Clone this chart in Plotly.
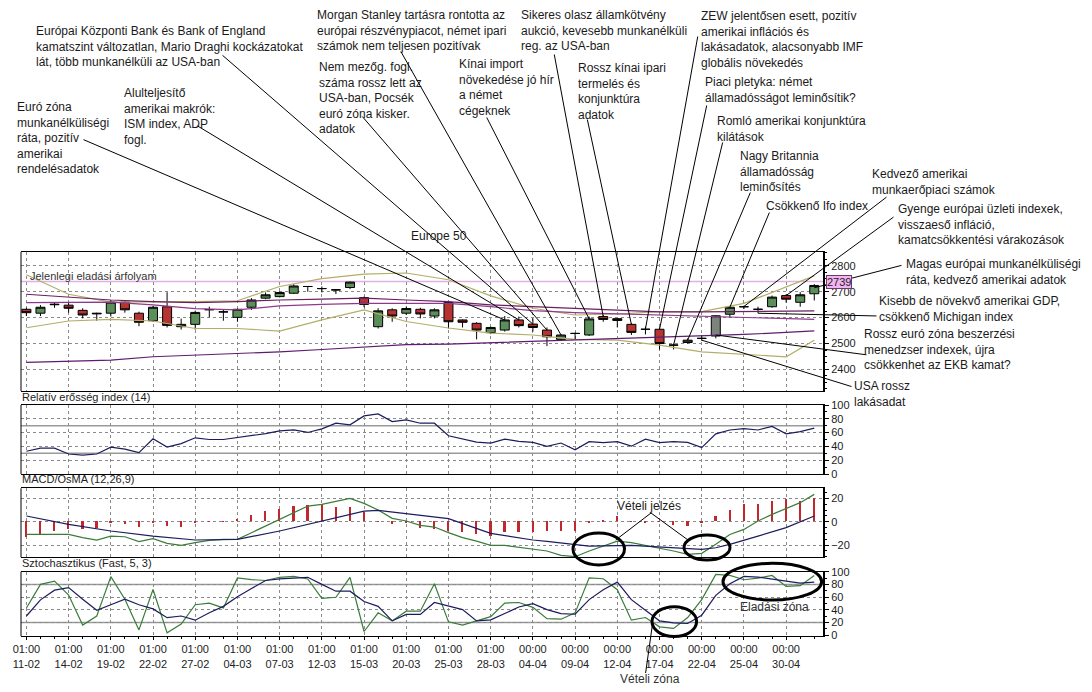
import plotly.graph_objects as go

# ---------------- data ----------------
tick_index = [0, 3, 6, 9, 12, 15, 18, 21, 24, 27, 30, 33, 36, 39, 42, 45, 48, 51, 54]
tick_times = ["01:00", "01:00", "01:00", "01:00", "01:00", "01:00", "01:00", "01:00", "01:00", "01:00",
              "01:00", "01:00", "00:00", "00:00", "00:00", "00:00", "00:00", "00:00", "00:00"]
tick_dates = ["11-02", "14-02", "19-02", "22-02", "27-02", "04-03", "07-03", "12-03", "15-03", "20-03",
              "25-03", "28-03", "04-04", "09-04", "12-04", "17-04", "22-04", "25-04", "30-04"]

candle_index = list(range(57))
open_ = [2632, 2617, 2652, 2648, 2628, 2617, 2617, 2660, 2617, 2588, 2642, 2565, 2574, 2630, 2622, 2601,
         2640, 2675, 2681, 2694, 2720, 2712, 2707, 2716, 2677, 2565, 2630, 2617, 2632, 2606, 2658, 2591,
         2578, 2542, 2552, 2591, 2575, 2552, 2516, 2539, 2533, 2604, 2596, 2574, 2555, 2555, 2494, 2504,
         2520, 2529, 2613, 2642, 2632, 2642, 2685, 2659, 2692]
high = [2638, 2648, 2658, 2658, 2636, 2619, 2668, 2664, 2623, 2645, 2698, 2596, 2627, 2642, 2630, 2635,
        2675, 2697, 2700, 2729, 2722, 2720, 2710, 2739, 2681, 2636, 2636, 2642, 2638, 2636, 2664, 2593,
        2582, 2565, 2606, 2604, 2597, 2562, 2536, 2542, 2604, 2610, 2596, 2578, 2565, 2562, 2500, 2520,
        2533, 2610, 2645, 2646, 2642, 2685, 2690, 2698, 2729]
low = [2606, 2606, 2638, 2619, 2597, 2588, 2604, 2619, 2567, 2584, 2562, 2554, 2554, 2601, 2588, 2584,
       2630, 2671, 2678, 2691, 2700, 2697, 2691, 2710, 2640, 2558, 2584, 2610, 2597, 2597, 2558, 2562,
       2516, 2536, 2546, 2562, 2546, 2490, 2513, 2516, 2529, 2584, 2562, 2533, 2535, 2477, 2477, 2500,
       2511, 2520, 2601, 2633, 2617, 2638, 2658, 2642, 2666]
close = [2619, 2640, 2650, 2636, 2610, 2615, 2660, 2630, 2582, 2640, 2570, 2574, 2620, 2631, 2622, 2632,
         2668, 2688, 2697, 2722, 2720, 2712, 2707, 2737, 2651, 2626, 2606, 2635, 2614, 2630, 2584, 2582,
         2552, 2562, 2591, 2569, 2562, 2526, 2533, 2539, 2595, 2593, 2589, 2543, 2555, 2500, 2494, 2513,
         2520, 2607, 2640, 2642, 2632, 2679, 2671, 2688, 2724]
# candle 49 is drawn grey in the reference; 48 (a doji) shares that trace so body widths match
grey_group = [48, 49]
current_price = 2739

line_index = [0, 3, 6, 9, 12, 15, 18, 21, 24, 27, 30, 33, 36, 39, 42, 45, 48, 51, 54, 56]
bb_upper = [2765, 2690, 2660, 2660, 2662, 2665, 2720, 2750, 2768, 2772, 2746, 2684, 2636, 2610, 2614,
            2623, 2623, 2655, 2720, 2761]
bb_lower = [2561, 2587, 2593, 2587, 2558, 2558, 2548, 2591, 2630, 2585, 2560, 2540, 2533, 2516, 2513,
            2494, 2468, 2458, 2449, 2513]
ma_fast = [2690, 2679, 2668, 2662, 2658, 2662, 2668, 2671, 2675, 2668, 2662, 2649, 2642, 2636, 2627,
           2622, 2622, 2624, 2624, 2626]
ma_mid = [2658, 2659, 2660, 2649, 2635, 2630, 2645, 2651, 2655, 2655, 2655, 2642, 2627, 2619, 2614,
          2610, 2606, 2601, 2596, 2593]
ma_slow = [2427, 2432, 2436, 2449, 2455, 2462, 2468, 2477, 2487, 2496, 2498, 2503, 2508, 2513, 2518,
           2524, 2529, 2535, 2543, 2549]

rsi = [33, 37.5, 37.5, 29, 27.5, 29, 39, 36, 31, 51, 39, 44, 52.5, 50, 50, 52.5, 55, 58.5,
       62.6, 64.0, 60.2, 65.5, 73.6, 71.2, 84.2, 87.1, 76.0, 78.4, 73.6, 73.6, 55.4, 50.6, 46.3, 44.9,
       50.6, 47.2, 45.8, 40.0, 44.9, 35.1, 46.9, 45.4, 46.9, 40.3, 50.5, 45.4, 46.9, 45.9, 38.2, 58.2,
       63.8, 65.9, 63.8, 69.0, 58.2, 61.3, 66.4]

macd_main = [-10.9, -10.9, -10.9, -10.9, -13.7, -15.7, -12.3, -12.9, -17.1, -14.6, -18.6, -20.3, -18.0,
             -16.0, -15.1, -15.1, -9.4, -3.7, 1.4, 7.7, 13.4, 14.9, 17.7, 20.0, 15.7, 10.0, 2.9, 0.6,
             -3.1, -4.6, -9.4, -13.7, -16.6, -20.3, -20.3, -21.7, -23.1, -25.1, -28.9, -30.0, -25.1,
             -20.9, -16.6, -18.0, -20.3, -22.3, -25.1, -28.0, -27.1, -19.4, -10.9, -6.6, 0.6, 6.3,
             11.1, 16.3, 23.4]
macd_osma = [-13.7, -11.7, -8.0, -6.6, -6.6, -6.0, -1.4, -2.3, -5.1, -1.4, -3.7, -4.6, -1.4, -0.3, 0.3,
             2.0, 5.7, 8.6, 10.6, 12.9, 14.0, 14.9, 12.6, 12.0, 7.7, 0.3, -2.3, -1.7, -6.0, -6.6, -8.0,
             -9.4, -10.9, -12.3, -8.9, -8.9, -8.9, -8.0, -8.0, -8.6, -0.9, 1.4, 4.9, 0.3, -0.9, -0.3,
             -2.9, -3.7, -1.4, 4.3, 9.7, 14.9, 14.9, 17.7, 19.1, 17.7, 20.0]
signal_index = [0, 3, 6, 9, 12, 15, 18, 21, 24, 25, 27, 30, 33, 36, 37, 40, 43, 46, 48, 49, 50, 52, 54, 56]
macd_signal = [4.9, -2.3, -8.0, -12.3, -15.7, -15.1, -8.0, 0.6, 9.1, 9.7, 7.1, 2.6, -10.0, -15.7, -16.9,
               -20.9, -20.3, -22.3, -23.7, -22.3, -19.4, -12.3, -5.1, 4.9]

stoch_k = [42.9, 80, 85.1, 63.2, 15.9, 30.2, 92.2, 56.6, 8.3, 71.9, 3.7, 17.5, 48.0, 50.5, 42.9, 90.2,
           87.6, 86.1, 91.2, 92.7, 88.6, 58.1, 59.7, 91.2, 5.8, 35.3, 22.5, 37.8, 37.8, 81.0, 21.0, 15.9,
           22.5, 29.2, 50.5, 51.5, 43.9, 26.1, 25.2, 35.1, 90.4, 88.9, 71.7, 23.7, 27.8, 13.2, 10.6,
           27.8, 56.0, 95.6, 94.1, 87.3, 89.9, 94.1, 76.9, 78.0, 94.0]
stoch_d = [30.2, 55.6, 70.9, 74.9, 56.6, 39.3, 48.0, 56.6, 48.0, 41.4, 27.6, 30.2, 23.6, 35.3, 45.4, 60.7,
           73.4, 86.1, 88.6, 90.2, 91.2, 80.0, 69.3, 69.3, 53.1, 45.4, 22.5, 32.7, 32.7, 51.5, 46.4, 40.3,
           22.5, 24.1, 34.2, 44.4, 49.5, 40.3, 34.1, 33.0, 56.0, 71.7, 83.6, 56.0, 39.3, 22.6, 19.5,
           18.4, 31.5, 62.8, 81.0, 92.5, 91.5, 88.9, 85.2, 82.1, 83.6]

event_index = [34, 35, 36, 37, 38, 40, 41, 43, 44, 45, 46, 47, 50, 51, 54, 56, 52, 49, 48]
event_price = [2591, 2591, 2575, 2552, 2533, 2595, 2604, 2574, 2556, 2555, 2494, 2513, 2640, 2643, 2685,
               2715, 2617, 2533, 2513]
event_text = [
    "Euró zóna<br>munkanélküliségi<br>ráta, pozitív<br>amerikai<br>rendelésadatok",
    "Alulteljesítő<br>amerikai makrók:<br>ISM index, ADP<br>fogl.",
    "Európai Központi Bank és Bank of England<br>kamatszint változatlan, Mario Draghi kockázatokat<br>lát, több munkanélküli az USA-ban",
    "Nem mezőg. fogl.<br>száma rossz lett az<br>USA-ban, Pocsék<br>euró zóna kisker.<br>adatok",
    "Morgan Stanley tartásra rontotta az<br>európai részvénypiacot, német ipari<br>számok nem teljesen pozitívak",
    "Kínai import<br>növekedése jó hír<br>a német<br>cégeknek",
    "Sikeres olasz államkötvény<br>aukció, kevesebb munkanélküli<br>reg. az USA-ban",
    "Rossz kínai ipari<br>termelés és<br>konjunktúra<br>adatok",
    "ZEW jelentősen esett, pozitív<br>amerikai inflációs és<br>lakásadatok, alacsonyabb IMF<br>globális növekedés",
    "Piaci pletyka: német<br>államadósságot leminősítik?",
    "Romló amerikai konjunktúra<br>kilátások",
    "Nagy Britannia<br>államadósság<br>leminősítés",
    "Csökkenő Ifo index",
    "Kedvező amerikai<br>munkaerőpiaci számok",
    "Gyenge európai üzleti indexek,<br>visszaeső infláció,<br>kamatcsökkentési várakozások",
    "Magas európai munkanélküliségi<br>ráta, kedvező amerikai adatok",
    "Kisebb de növekvő amerikai GDP,<br>csökkenő Michigan index",
    "Rossz euró zóna beszerzési<br>menedzser indexek, újra<br>csökkenhet az EKB kamat?",
    "USA rossz<br>lakásadat",
]

# ---------------- layout constants ----------------
W, H = 1092, 692
ML, MR, MT, MB = 21, 269, 252, 56
PW = W - ML - MR
PH = H - MT - MB
X_RANGE = [-0.384, 56.62]
PRICE_RANGE = [2317, 2853]
PRICE_TOP, PRICE_BOT = 252, 391
FONT = "Liberation Sans, Arial, sans-serif"
GREEN_C = "#5b8e5b"
RED_C = "#b53331"
GRAY_C = "#7c857c"
OLIVE = "#b3ae68"
NAVY = "#1c1c5e"
LGREEN = "#3a7d3a"

# text block placement (left px, first-line centre px, leader tail px x, y)
event_layout = [
    (16, 108, 82, 139), (123, 94, 196, 125), (35, 32, 221, 54), (318, 68, 361, 115),
    (316, 16, 400, 50), (458, 65, 486, 116), (520, 16, 554, 53), (577, 69, 587, 118),
    (700, 17, 698, 35), (704, 83, 707, 104), (716, 122, 723, 141), (739, 157, 751, 191),
    (765, 207, 770, 211), (871, 175, 888, 196), (897, 210, 895, 216), (905, 265, 903, 265),
    (878, 302, 878, 316), (863, 335, 868, 355), (853, 387, 853, 387),
]


def dom(top_px, bot_px):
    return [(H - MB - bot_px) / PH, (H - MB - top_px) / PH]


def paper(x, y):
    return (x - ML) / PW, (H - MB - y) / PH


def head_px(i, p):
    hx = ML + (i - X_RANGE[0]) / (X_RANGE[1] - X_RANGE[0]) * PW
    hy = PRICE_TOP + (PRICE_RANGE[1] - p) / (PRICE_RANGE[1] - PRICE_RANGE[0]) * (PRICE_BOT - PRICE_TOP)
    return hx, hy


fig = go.Figure()

# ---- price panel ----
main = [i for i in candle_index if i not in grey_group]
fig.add_trace(go.Candlestick(
    x=main, open=[open_[i] for i in main], high=[high[i] for i in main],
    low=[low[i] for i in main], close=[close[i] for i in main],
    increasing=dict(line=dict(color="black", width=1), fillcolor=GREEN_C),
    decreasing=dict(line=dict(color="black", width=1), fillcolor=RED_C),
    xaxis="x", yaxis="y", showlegend=False, hoverinfo="skip"))
fig.add_trace(go.Candlestick(
    x=grey_group, open=[open_[i] for i in grey_group], high=[high[i] for i in grey_group],
    low=[low[i] for i in grey_group], close=[close[i] for i in grey_group],
    increasing=dict(line=dict(color="black", width=1), fillcolor=GRAY_C),
    decreasing=dict(line=dict(color="black", width=1), fillcolor=GRAY_C),
    xaxis="x", yaxis="y", showlegend=False, hoverinfo="skip"))

for ys, col in [(bb_upper, OLIVE), (bb_lower, OLIVE), (ma_fast, "#6b1f5e"),
                (ma_mid, "#8d3a8d"), (ma_slow, "#5e1c6e")]:
    fig.add_trace(go.Scatter(x=line_index, y=ys, mode="lines", line=dict(color=col, width=1.2),
                             xaxis="x", yaxis="y", showlegend=False, hoverinfo="skip"))

# ---- RSI ----
fig.add_trace(go.Scatter(x=candle_index, y=rsi, mode="lines", line=dict(color=NAVY, width=1.2),
                         xaxis="x2", yaxis="y2", showlegend=False, hoverinfo="skip"))

# ---- MACD ----
fig.add_trace(go.Bar(x=candle_index, y=macd_osma, width=0.12, marker=dict(color="#c0282d", line=dict(width=0)),
                     xaxis="x3", yaxis="y3", showlegend=False, hoverinfo="skip"))
fig.add_trace(go.Scatter(x=candle_index, y=macd_main, mode="lines", line=dict(color=LGREEN, width=1.2),
                         xaxis="x3", yaxis="y3", showlegend=False, hoverinfo="skip"))
fig.add_trace(go.Scatter(x=signal_index, y=macd_signal, mode="lines", line=dict(color=NAVY, width=1.2),
                         xaxis="x3", yaxis="y3", showlegend=False, hoverinfo="skip"))

# ---- Stochastic ----
fig.add_trace(go.Scatter(x=candle_index, y=stoch_k, mode="lines", line=dict(color=LGREEN, width=1.2),
                         xaxis="x4", yaxis="y4", showlegend=False, hoverinfo="skip"))
fig.add_trace(go.Scatter(x=candle_index, y=stoch_d, mode="lines", line=dict(color=NAVY, width=1.2),
                         xaxis="x4", yaxis="y4", showlegend=False, hoverinfo="skip"))

GRID = dict(showgrid=True, gridcolor="#8a8a8a", gridwidth=1, griddash="3px,3px", zeroline=False)


def xax(anchor, labels=False):
    d = dict(range=X_RANGE, anchor=anchor, tickmode="array", tickvals=tick_index, showline=True,
             linecolor="black", linewidth=1, mirror=True, fixedrange=True, **GRID)
    if labels:
        d.update(ticktext=[t + "<br>" + dd for t, dd in zip(tick_times, tick_dates)],
                 ticks="outside", ticklen=3, tickcolor="black",
                 tickfont=dict(family=FONT, size=11, color="#222"),
                 minor=dict(tickmode="linear", tick0=0, dtick=1, ticks="outside", ticklen=2,
                            tickcolor="black", showgrid=False))
    else:
        d.update(showticklabels=False, ticks="")
    return d


def yax(domain, rng, tickvals, anchor, mdt):
    return dict(domain=domain, range=rng, side="right", anchor=anchor, tickmode="array", tickvals=tickvals,
                showline=True, linecolor="black", linewidth=2, ticks="outside", ticklen=4,
                tickcolor="black", tickfont=dict(family=FONT, size=11, color="#222"), fixedrange=True,
                minor=dict(tickmode="linear", dtick=mdt, ticks="outside", ticklen=2, tickcolor="black",
                           showgrid=False), **GRID)


fig.update_layout(
    width=W, height=H, autosize=False,
    margin=dict(l=ML, r=MR, t=MT, b=MB, pad=0),
    paper_bgcolor="white", plot_bgcolor="white",
    font=dict(family=FONT, size=12, color="#1a1a1a"),
    showlegend=False, boxmode="overlay", boxgap=0.2, boxgroupgap=0.2, bargap=0,
    xaxis=dict(xax("y"), rangeslider=dict(visible=False)),
    xaxis2=xax("y2"), xaxis3=xax("y3"), xaxis4=xax("y4", labels=True),
    yaxis=yax(dom(PRICE_TOP, PRICE_BOT), PRICE_RANGE, [2400, 2500, 2600, 2700, 2800], "x", 25),
    yaxis2=yax(dom(405, 474), [0, 100], [0, 20, 40, 60, 80, 100], "x2", 10),
    yaxis3=yax(dom(488.3, 557.3), [-30.5, 28.6], [-20, 0, 20], "x3", 5),
    yaxis4=yax(dom(571.7, 636), [-1.3, 100], [0, 20, 40, 60, 80, 100], "x4", 10),
)

shapes = []
for xr, yr in [("x", "y"), ("x2", "y2"), ("x3", "y3"), ("x4", "y4")]:
    shapes.append(dict(type="line", xref=xr + " domain", yref=yr + " domain", x0=0, x1=0, y0=0, y1=1,
                       line=dict(color="black", width=1)))
shapes.append(dict(type="line", xref="x domain", yref="y", x0=0, x1=1, y0=current_price, y1=current_price,
                   line=dict(color="#e3b0e3", width=1.5), layer="below"))
for yr, lv in [("y2", 30), ("y2", 70), ("y4", 20), ("y4", 80)]:
    shapes.append(dict(type="line", xref=yr.replace("y", "x") + " domain", yref=yr, x0=0, x1=1, y0=lv, y1=lv,
                       line=dict(color="#9a9a9a", width=1.5), layer="below"))


def ellipse(x0, y0, x1, y1):
    a, b = paper(x0, y1)
    c, d = paper(x1, y0)
    return dict(type="circle", xref="paper", yref="paper", x0=a, y0=b, x1=c, y1=d,
                line=dict(color="black", width=3))


def seg(x0, y0, x1, y1):
    a, b = paper(x0, y0)
    c, d = paper(x1, y1)
    return dict(type="line", xref="paper", yref="paper", x0=a, y0=b, x1=c, y1=d,
                line=dict(color="black", width=1))


shapes += [ellipse(573, 533, 624.5, 565), ellipse(684, 535, 730, 560),
           ellipse(652, 606.7, 696.6, 636.5), ellipse(723, 563.3, 821.6, 600),
           seg(651, 513, 615.7, 540), seg(651, 513, 688, 540), seg(645.6, 673, 652.6, 623.3)]
fig.update_layout(shapes=shapes)

ann = []


def text_at(txt, left, centre, size=12, color="#1a1a1a"):
    x, y = paper(left, centre - size * 0.73)
    ann.append(dict(text=txt, xref="paper", yref="paper", x=x, y=y, xanchor="left", yanchor="top",
                    align="left", showarrow=False, font=dict(family=FONT, size=size, color=color),
                    borderpad=0))


for txt, i, p, (lx, cy, tx, ty) in zip(event_text, event_index, event_price, event_layout):
    text_at(txt, lx, cy)
    hx, hy = head_px(i, p)
    ann.append(dict(text="", x=i, y=p, xref="x", yref="y", showarrow=True, arrowhead=0, arrowwidth=1,
                    arrowcolor="black", ax=tx - hx, ay=ty - hy, standoff=0, startstandoff=0))

text_at("Europe 50", 410, 237)
text_at("Jelenlegi eladási árfolyam", 29, 277, size=11, color="#333")
text_at("Relatív erősség index (14)", 21, 398, size=11, color="#222")
text_at("MACD/OsMA (12,26,9)", 21, 480, size=11, color="#222")
text_at("Sztochasztikus (Fast, 5, 3)", 21, 564, size=11, color="#222")
text_at("Vételi jelzés", 616, 507)
text_at("Eladási zóna", 739, 608, color="#333")
text_at("Vételi zóna", 619, 680, color="#333")

ann.append(dict(text=str(current_price), xref="x domain", yref="y", x=1, y=current_price, xanchor="left",
                yanchor="middle", xshift=3, showarrow=False, bgcolor="#f3b4f3", bordercolor="#6a3a6a",
                borderwidth=1, borderpad=0, font=dict(family=FONT, size=11, color="#222")))
fig.update_layout(annotations=ann)

fig.write_html("out.html", include_plotlyjs=True, config={"displayModeBar": False},
               post_script="document.body.style.margin='0';document.body.style.overflow='hidden';")
